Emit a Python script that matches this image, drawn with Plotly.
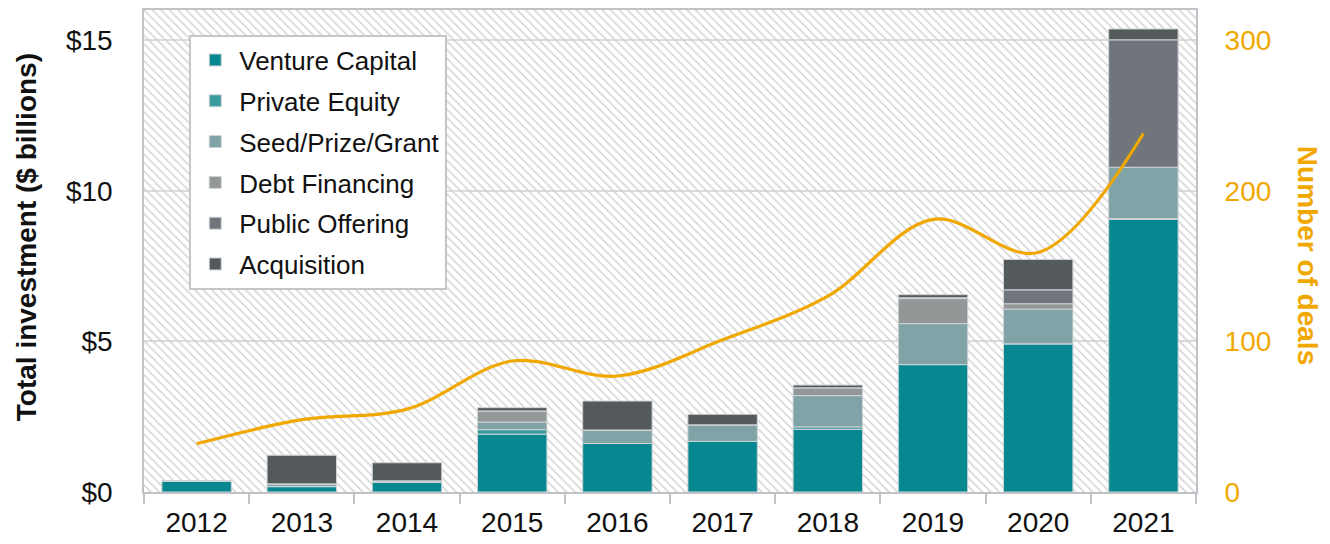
import plotly.graph_objects as go
import numpy as np

years = ["2012", "2013", "2014", "2015", "2016", "2017", "2018", "2019", "2020", "2021"]
venture_capital = [0.36, 0.18, 0.32, 1.92, 1.61, 1.68, 2.08, 4.23, 4.92, 9.05]
private_equity = [0.0, 0.0, 0.0, 0.15, 0.0, 0.0, 0.08, 0.0, 0.0, 0.03]
seed_prize_grant = [0.0, 0.09, 0.05, 0.25, 0.45, 0.55, 1.04, 1.36, 1.15, 1.70]
debt_financing = [0.0, 0.0, 0.0, 0.37, 0.0, 0.0, 0.26, 0.83, 0.18, 0.0]
public_offering = [0.0, 0.0, 0.0, 0.0, 0.0, 0.0, 0.0, 0.03, 0.46, 4.23]
acquisition = [0.0, 0.95, 0.60, 0.11, 0.96, 0.35, 0.09, 0.10, 1.01, 0.36]
number_of_deals = [32, 48, 55, 87, 77, 101, 130, 181, 159, 238]

series = [
    ("Venture Capital", venture_capital, "#078890"),
    ("Private Equity", private_equity, "#3a9b9e"),
    ("Seed/Prize/Grant", seed_prize_grant, "#7fa3a6"),
    ("Debt Financing", debt_financing, "#939798"),
    ("Public Offering", public_offering, "#6f757b"),
    ("Acquisition", acquisition, "#545a5c"),
]

FONT = "Liberation Sans, Arial, sans-serif"

fig = go.Figure()

# hatched plot background
fig.add_trace(go.Bar(
    x=[years[4]], y=[16], base=[0], width=[10], offset=-4.5,
    marker=dict(color="rgba(0,0,0,0)", line=dict(width=0),
                pattern=dict(shape="\\", fgcolor="#d0d0d0", bgcolor="rgba(0,0,0,0)",
                             size=6, solidity=0.24, fillmode="replace")),
    showlegend=False, hoverinfo="skip",
))

base = np.zeros(len(years))
for name, vals, color in series:
    vals = np.array(vals, dtype=float)
    fig.add_trace(go.Bar(
        x=years, y=vals, base=base.copy(), name=name, width=0.66,
        marker=dict(color=color, line=dict(color="#cfd3d6", width=1)),
        legendgroup=name,
    ))
    base = base + vals

fig.add_trace(go.Scatter(
    x=years, y=number_of_deals, yaxis="y2", mode="lines",
    line=dict(color="#f0a800", width=3.2, shape="spline", smoothing=1.0),
    showlegend=False, name="Number of deals",
))

tick_font = dict(family=FONT, size=28, color="#111111")
fig.update_layout(
    width=1322, height=536,
    margin=dict(l=136, r=134, t=0, b=52),
    paper_bgcolor="white", plot_bgcolor="white",
    barmode="overlay",
    font=dict(family=FONT, color="#111111"),
    xaxis=dict(
        type="category", categoryorder="array", categoryarray=years,
        range=[-0.5, 9.5], tickson="boundaries", ticks="outside", ticklen=10,
        tickcolor="#bfc3c7", tickwidth=1.5,
        showline=True, linecolor="#bfc3c7", linewidth=1.5, mirror=True,
        showgrid=False, tickfont=tick_font, ticklabelstandoff=5,
    ),
    yaxis=dict(
        range=[0, 16], tickvals=[0, 5, 10, 15], ticktext=["$0", "$5", "$10", "$15"],
        showgrid=True, gridcolor="#dcdcdc", gridwidth=1.5,
        showline=True, linecolor="#bfc3c7", linewidth=1.5, mirror=True,
        zeroline=False, tickfont=tick_font,
        ticks="outside", ticklen=24, tickcolor="rgba(0,0,0,0)",
    ),
    yaxis2=dict(
        overlaying="y", side="right", range=[0, 320], tickvals=[0, 100, 200, 300],
        showgrid=False, zeroline=False, showline=False,
        tickfont=dict(family=FONT, size=28, color="#f0a800"),
        ticks="outside", ticklen=22, tickcolor="rgba(0,0,0,0)",
    ),
    legend=dict(
        x=0.043, y=0.949, xanchor="left", yanchor="top",
        bgcolor="white", bordercolor="#c3c7cb", borderwidth=2,
        font=dict(family=FONT, size=26, color="#111111"),
        traceorder="grouped", tracegroupgap=4, itemwidth=38,
    ),
    annotations=[
        dict(text="<b>Total investment ($ billions)</b>", textangle=-90,
             x=-0.112, y=0.529, xref="paper", yref="paper", showarrow=False,
             xanchor="center", yanchor="middle",
             font=dict(family=FONT, size=28, color="#111111")),
        dict(text="<b>Number of deals</b>", textangle=90,
             x=1.1055, y=0.49, xref="paper", yref="paper", showarrow=False,
             xanchor="center", yanchor="middle",
             font=dict(family=FONT, size=28, color="#f0a800")),
    ],
)

fig.write_html("out.html")
